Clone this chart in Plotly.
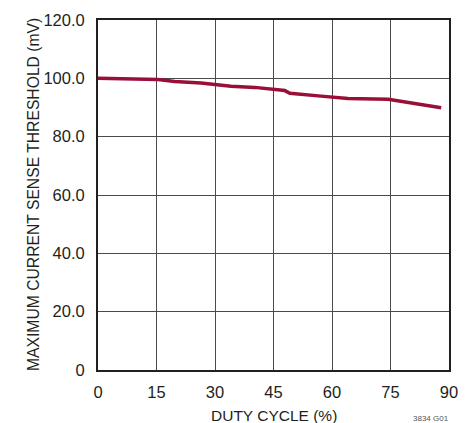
import plotly.graph_objects as go

duty = [0, 10.3, 15.4, 19.7, 26.4, 34.1, 40.2, 47.9, 49.2, 57.2, 64.1, 74.4, 88]
thresh = [100.0, 99.9, 99.6, 98.9, 98.4, 97.3, 96.9, 95.8, 94.9, 93.9, 93.1, 92.8, 89.9]
xticks = [0, 15, 30, 45, 60, 75, 90]
yticks = [0, 20, 40, 60, 80, 100, 120]
ytext = ["0", "20.0", "40.0", "60.0", "80.0", "100.0", "120.0"]

font = "Liberation Sans, Arial, sans-serif"
ink = "#231f20"

fig = go.Figure()
fig.add_trace(go.Scatter(x=duty, y=thresh, mode="lines",
                         line=dict(color="#9a0f38", width=3.5),
                         showlegend=False, hoverinfo="skip"))

fig.update_layout(
    width=466, height=423,
    margin=dict(l=90, r=25, t=12, b=61),
    paper_bgcolor="white", plot_bgcolor="white",
    font=dict(family=font, size=16, color=ink),
    xaxis=dict(range=[0, 90], tickvals=xticks, ticktext=[str(t) for t in xticks],
               showgrid=True, gridcolor="#4a4a4a", gridwidth=1,
               showline=True, linecolor=ink, linewidth=2, mirror=True,
               zeroline=False, ticks="", ticklabelstandoff=6, automargin=False,
               tickfont=dict(size=16.5)),
    yaxis=dict(range=[0, 120], tickvals=yticks, ticktext=ytext,
               showgrid=True, gridcolor="#4a4a4a", gridwidth=1,
               showline=True, linecolor=ink, linewidth=2, mirror=True,
               zeroline=False, ticks="", ticklabelstandoff=8, automargin=False,
               tickfont=dict(size=16.5)),
)
fig.add_annotation(text="DUTY CYCLE (%)", xref="paper", yref="paper", x=0.5, y=0,
                   yshift=-45, xanchor="center", yanchor="middle", showarrow=False,
                   font=dict(size=15.5, color=ink))
fig.add_annotation(text="MAXIMUM CURRENT SENSE THRESHOLD (mV)", xref="paper", yref="paper",
                   x=0, xshift=-65, y=0.5, textangle=-90, xanchor="center",
                   yanchor="middle", showarrow=False, font=dict(size=15.7, color=ink))
fig.add_annotation(text="3834 G01", xref="paper", yref="paper", x=1, xshift=1, y=0,
                   yshift=-54, xanchor="right", yanchor="bottom", showarrow=False,
                   borderpad=0, font=dict(size=8, color="#555555"))
fig.write_html("out.html")
